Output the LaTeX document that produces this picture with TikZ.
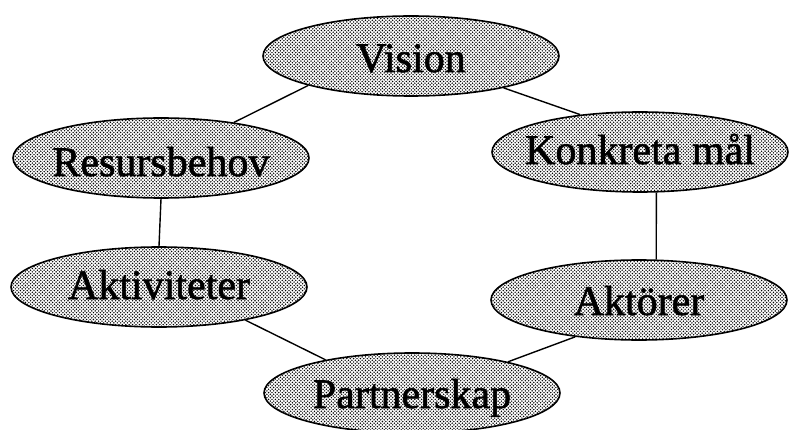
\documentclass[tikz,border=0pt]{standalone}
\usepackage{fontspec}
\setmainfont{Liberation Serif}
\newfontfamily\heavyserif[FakeBold=1.3]{Liberation Serif}
\usetikzlibrary{shapes.geometric,patterns}
\pgfdeclarepatternformonly{mydots}{\pgfqpoint{-1pt}{-1pt}}{\pgfqpoint{2.4pt}{2.4pt}}{\pgfqpoint{3.4pt}{3.4pt}}{%
  \pgfpathcircle{\pgfqpoint{0pt}{0pt}}{.8pt}%
  \pgfpathcircle{\pgfqpoint{1.7pt}{1.7pt}}{.8pt}%
  \pgfusepath{fill}}
\tikzset{
  ell/.style={ellipse, draw=black, line width=1.6pt, minimum width=296pt, minimum height=80pt,
    inner sep=0pt, preaction={fill=white}, pattern=mydots, pattern color=black},
  txt/.style={anchor=base, inner sep=0pt, font=\heavyserif\fontsize{42}{42}\selectfont},
  conn/.style={line width=1.4pt}
}
\begin{document}
\begin{tikzpicture}[x=1pt,y=-1pt]
\useasboundingbox[fill=white] (0,0) rectangle (789,430);
\node[ell] (V)  at (411,56)  {};
\node[ell] (R)  at (161,158) {};
\node[ell] (K)  at (640,152) {};
\node[ell] (A)  at (159,287) {};
\node[ell] (Ak) at (639,300) {};
\node[ell] (P)  at (412,393) {};
\node[txt] (Vt)  at ([yshift=-16pt]V.center)  {Vision};
\node[txt] (Rt)  at ([yshift=-18pt]R.center)  {Resursbehov};
\node[txt] (Kt)  at ([yshift=-12pt]K.center)  {Konkreta mål};
\node[txt] (At)  at ([yshift=-12pt]A.center)  {Aktiviteter};
\node[txt] (Akt) at ([yshift=-15pt]Ak.center) {Aktörer};
\node[txt] (Pt)  at ([yshift=-15pt]P.center)  {Partnerskap};
\draw[conn] (V.196) -- (R.26);
\draw[conn] (V.-19) -- (K.148);
\draw[conn] (R.south) -- (A.north);
\draw[conn] (K.-68) -- (Ak.67);
\draw[conn] (A.-21) -- (P.159);
\draw[conn] (Ak.210) -- (P.18);
\end{tikzpicture}
\end{document}
